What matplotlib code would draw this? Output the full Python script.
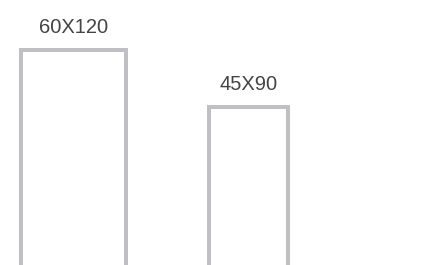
import matplotlib.pyplot as plt

# sizes: width x height
labels = ["60X120", "45X90"]
widths = [60, 45]
heights = [120, 90]

plt.rcParams["font.family"] = ["Liberation Sans", "DejaVu Sans"]

fig = plt.figure(figsize=(4.34, 2.65), dpi=100)
ax = fig.add_axes([0, 0, 1, 1])

# left edges: margin then fixed gap between boxes
lefts = []
pos = 12
for w in widths:
    lefts.append(pos)
    pos += w + 48

ax.bar(lefts, heights, width=widths, align="edge", fill=False,
       edgecolor="#c0c0c4", linewidth=2.9, joinstyle="miter")

for x, w, h, lab in zip(lefts, widths, heights, labels):
    ax.annotate(lab, (x + w / 2, h), xytext=(0, 12), textcoords="offset points",
                ha="center", va="baseline", fontsize=14.5, color="#444444")

# boxes run off the bottom edge
ax.set_xlim(0, 434 / 1.745)
ax.set_ylim(6.84, 146.3)
ax.axis("off")

fig.savefig("out.png", dpi=100)
